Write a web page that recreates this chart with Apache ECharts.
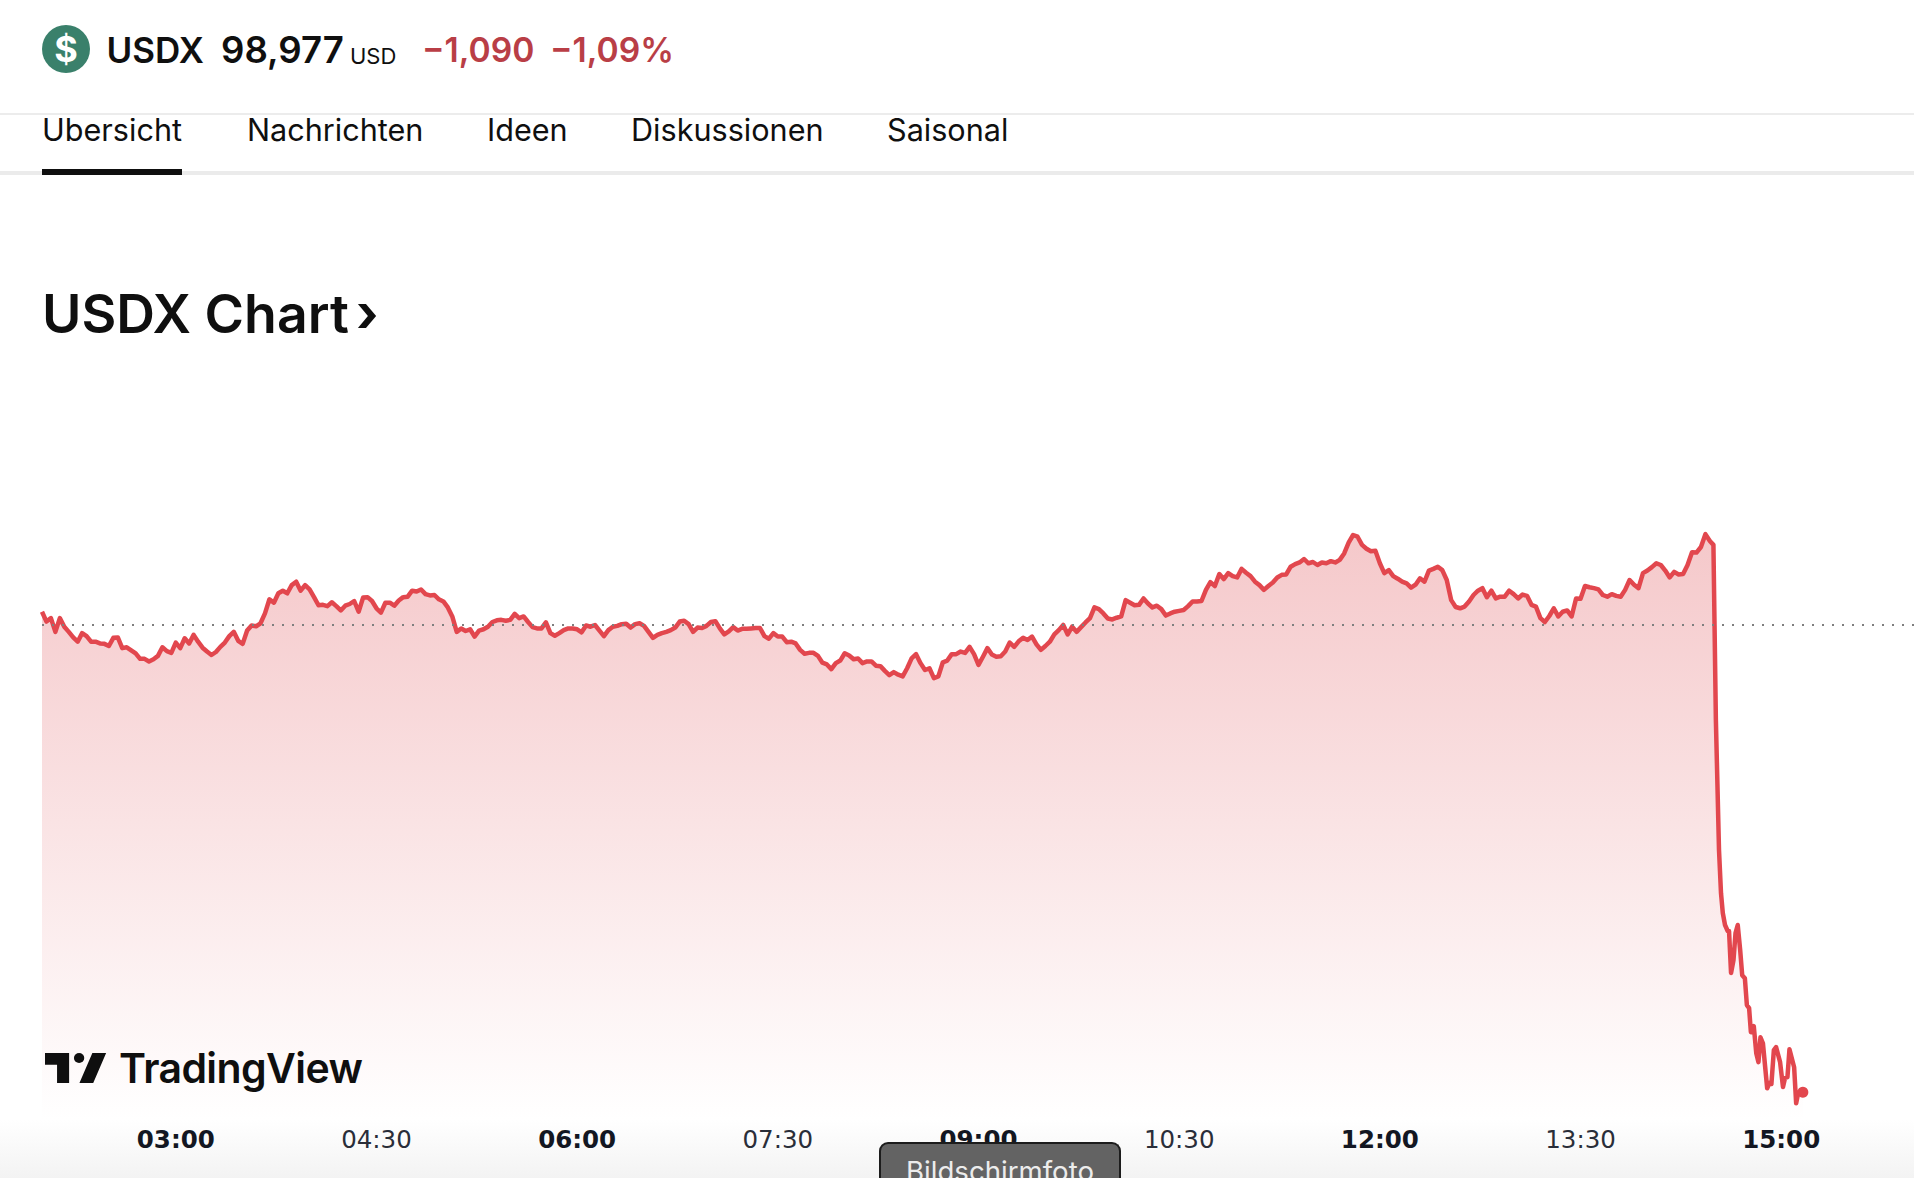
<!DOCTYPE html>
<html><head><meta charset="utf-8">
<script src="https://cdn.jsdelivr.net/npm/echarts@6/dist/echarts.min.js"></script>
<style>
html,body{margin:0;padding:0;background:#fff;width:1914px;height:1178px;overflow:hidden;font-family:Inter,sans-serif;color:#0f0f0f}
.a{position:absolute;white-space:nowrap;line-height:1}
#chart{position:absolute;left:0;top:0;width:1914px;height:1178px}
</style></head><body>
<div class="a" style="left:0;top:1120px;width:1914px;height:58px;background:linear-gradient(#ffffff,#f3f3f3)"></div>
<div id="chart"></div>
<div class="a" style="left:42px;top:25px;width:48px;height:48px;border-radius:50%;background:#3a806b;color:#fff;font:700 36px/48px Inter;text-align:center">$</div>
<div class="a" style="left:106.5px;top:33px;font-size:35px;font-weight:600">USDX</div>
<div class="a" style="left:221px;top:32px;font-size:36.6px;font-weight:600">98,977</div>
<div class="a" style="left:350px;top:45px;font-size:22px">USD</div>
<div class="a" style="left:422px;top:33px;font-size:33.6px;font-weight:600;color:#b93e46">−1,090</div>
<div class="a" style="left:550px;top:33px;font-size:33.6px;font-weight:600;color:#b93e46">−1,09%</div>
<div class="a" style="left:0;top:113px;width:1914px;height:2px;background:#ececec"></div>
<div class="a" style="left:42px;top:115px;font-size:30.6px;clip-path:inset(3px -5px -5px -5px)">Übersicht</div>
<div class="a" style="left:247px;top:115px;font-size:30.6px">Nachrichten</div>
<div class="a" style="left:487px;top:115px;font-size:30.6px">Ideen</div>
<div class="a" style="left:631px;top:115px;font-size:30.6px">Diskussionen</div>
<div class="a" style="left:887px;top:115px;font-size:30.6px">Saisonal</div>
<div class="a" style="left:0;top:171px;width:1914px;height:4px;background:#ebebeb"></div>
<div class="a" style="left:42px;top:169px;width:140px;height:6px;background:#0f0f0f"></div>
<div class="a" style="left:42px;top:287px;font-size:53.6px;font-weight:600">USDX Chart</div>
<div class="a" style="left:356px;top:288px;font-size:52px;font-weight:700">›</div>
<svg class="a" style="left:45px;top:1053px" width="62" height="30" viewBox="0 0 36 18" preserveAspectRatio="none"><path d="M14 18H7V7H0V0h14v18zM28 18h-8L27.5 0h8L28 18z" fill="#0f0f0f"/><ellipse cx="19.8" cy="3" rx="3" ry="3" fill="#0f0f0f"/></svg>
<div class="a" style="left:119px;top:1048px;font-size:41px;font-weight:600;letter-spacing:-0.6px">TradingView</div>
<div class="a" style="left:879px;top:1142px;width:242px;height:36px;box-sizing:border-box;background:#636363;border:2px solid #1c1c1c;border-bottom:0;border-radius:9px 9px 0 0;color:#ececec;font-size:27.6px;text-align:center;padding-top:14px">Bildschirmfoto</div>
<script>
const previousClose = 100.067;
const lastPrice = 98.977;
const startMinute = 120;
const stepMinutes = 2;
const valuesA = [
100.098,100.075,100.083,100.051,100.083,100.063,100.051,100.038,100.028,100.048,
100.041,100.028,100.028,100.024,100.023,100.018,100.037,100.038,100.013,100.015,
100.008,100.001,99.988,99.988,99.982,99.987,99.995,100.015,100.006,100.002,
100.026,100.013,100.036,100.024,100.044,100.028,100.014,100.005,99.997,100.004,
100.016,100.026,100.041,100.051,100.030,100.023,100.054,100.066,100.064,100.071,
100.094,100.127,100.119,100.141,100.147,100.141,100.160,100.168,100.147,100.160,
100.150,100.132,100.113,100.114,100.111,100.120,100.111,100.101,100.112,100.116,
100.123,100.098,100.131,100.132,100.123,100.106,100.096,100.119,100.119,100.112,
100.124,100.132,100.133,100.147,100.145,100.150,100.139,100.136,100.137,100.127,
100.122,100.108,100.087,100.051,100.059,100.053,100.057,100.040,100.054,100.057,
100.063,100.074,100.078,100.079,100.077,100.079,100.093,100.083,100.087,100.074,
100.062,100.059,100.059,100.073,100.048,100.042,100.048,100.055,100.059,100.059,
100.057,100.050,100.066,100.063,100.067,100.054,100.041,100.055,100.063,100.065,
100.069,100.070,100.061,100.069,100.071,100.065];
const valuesB = [
100.051,100.037,100.044,100.048,100.051,100.055,100.061,100.075,100.077,100.069,
100.051,100.061,100.060,100.065,100.074,100.076,100.059,100.045,100.052,100.062,
100.054,100.058,100.058,100.059,100.060,100.060,100.041,100.035,100.048,100.040,
100.040,100.027,100.028,100.024,100.009,100.000,100.002,100.002,99.995,99.979,
99.975,99.964,99.978,99.984,100.001,99.996,99.987,99.989,99.978,99.982,
99.982,99.972,99.971,99.960,99.950,99.957,99.951,99.947,99.966,99.989,
99.999,99.978,99.962,99.966,99.943,99.947,99.980,99.984,99.999,99.999,
100.005,100.002,100.016,99.999,99.974,99.993,100.013,99.998,99.993,99.994,
100.005,100.026,100.016,100.029,100.037,100.032,100.040,100.022,100.009,100.018,
100.028,100.045,100.055,100.067,100.045,100.063,100.051,100.062,100.073,100.083,
100.108,100.104,100.094,100.082,100.080,100.084,100.087,100.125,100.119,100.113,
100.114,100.129,100.117,100.108,100.112,100.104,100.089,100.094,100.098,100.100,
100.102,100.111,100.122,100.122,100.123,100.149,100.167,100.158,100.186,100.174,
100.188,100.181,100.178,100.198,100.189,100.181,100.168,100.160,100.149];
const valuesC = [
100.158,100.166,100.178,100.184,100.185,100.203,100.209,100.213,100.221,100.211,
100.214,100.207,100.213,100.211,100.216,100.213,100.219,100.234,100.259,100.277,
100.273,100.254,100.245,100.239,100.240,100.211,100.188,100.195,100.181,100.175,
100.168,100.164,100.154,100.161,100.176,100.168,100.194,100.198,100.203,100.195,
100.172,100.125,100.109,100.106,100.110,100.122,100.137,100.147,100.153,100.132,
100.147,100.129,100.133,100.133,100.147,100.139,100.129,100.138,100.135,100.114,
100.110,100.083,100.074,100.088,100.106,100.087,100.098,100.101,100.087,100.129,
100.128,100.158,100.155,100.153,100.150,100.137,100.133,100.139,100.135,100.133,
100.149,100.172,100.161,100.153,100.188,100.194,100.202,100.211,100.207,100.194,
100.178,100.191,100.185,100.186,100.207,100.237,100.236,100.249,100.279,100.263];
const dropMinutes = [869.6,870.1,870.7,872.1,873.0,873.8,874.8,876.0,876.6,877.5,878.6,879.5,880.5,881.6,882.5,883.7,884.6,885.6,886.4,887.0,887.7,888.8,889.8,890.7,891.8,893.7,894.7,895.6,896.7,897.7,899.5,900.8,901.7,902.8,903.7,905.8,906.7,907.7,909.7];
const dropValues = [100.254,100.067,99.845,99.542,99.441,99.395,99.367,99.353,99.353,99.255,99.285,99.348,99.367,99.308,99.250,99.243,99.180,99.173,99.117,99.117,99.131,99.068,99.047,99.105,99.091,98.986,98.998,98.996,99.075,99.082,99.047,98.989,99.010,99.012,99.077,99.035,98.951,98.977,98.977];

const regular = valuesA.concat(valuesB, valuesC);
const points = regular.map((v, i) => [startMinute + i * stepMinutes, v])
  .concat(dropValues.map((v, i) => [dropMinutes[i], v]));

const pad = n => String(n).padStart(2, '0');
const chart = echarts.init(document.getElementById('chart'), null, {renderer: 'svg', width: 1914, height: 1178});
chart.setOption({
  animation: false,
  backgroundColor: 'transparent',
  grid: {left: 42, width: 1873, top: 400, height: 720, outerBoundsMode: 'none'},
  xAxis: {
    type: 'value', min: 120, max: 960, interval: 30,
    axisLine: {show: false}, axisTick: {show: false}, splitLine: {show: false},
    axisLabel: {
      margin: 7,
      formatter: v => {
        if (v % 90 !== 0 || v >= 960) return '';
        const s = pad(Math.floor(v / 60)) + ':' + pad(v % 60);
        return v % 180 === 0 ? '{b|' + s + '}' : '{r|' + s + '}';
      },
      rich: {
        b: {fontFamily: 'DejaVu Sans', fontWeight: 700, fontSize: 24.5, color: '#131722'},
        r: {fontFamily: 'DejaVu Sans', fontWeight: 400, fontSize: 24.5, color: '#2a2e39'}
      }
    }
  },
  yAxis: {type: 'value', show: false, min: 98.912, max: 100.592, splitLine: {show: false}},
  series: [
    {
      type: 'line', data: points, symbol: 'none', smooth: false, clip: false,
      lineStyle: {color: '#e2474e', width: 4.5, join: 'round'},
      areaStyle: {opacity: 1, origin: 'start', color: {type: 'linear', x: 0, y: 0, x2: 0, y2: 1,
        colorStops: [{offset: 0, color: '#f5c8ca'}, {offset: 1, color: '#ffffff'}]}},
      markLine: {
        silent: true, symbol: 'none', label: {show: false},
        lineStyle: {type: [2, 8], color: '#7f7f7f', width: 2},
        data: [[{coord: [startMinute, previousClose]}, {coord: [960, previousClose]}]]
      }
    },
    {type: 'scatter', z: 10, data: [[dropMinutes[dropMinutes.length - 1], lastPrice]], symbol: 'circle', symbolSize: 11,
     itemStyle: {color: '#e2474e', opacity: 1}}
  ]
});
</script>
</body></html>
